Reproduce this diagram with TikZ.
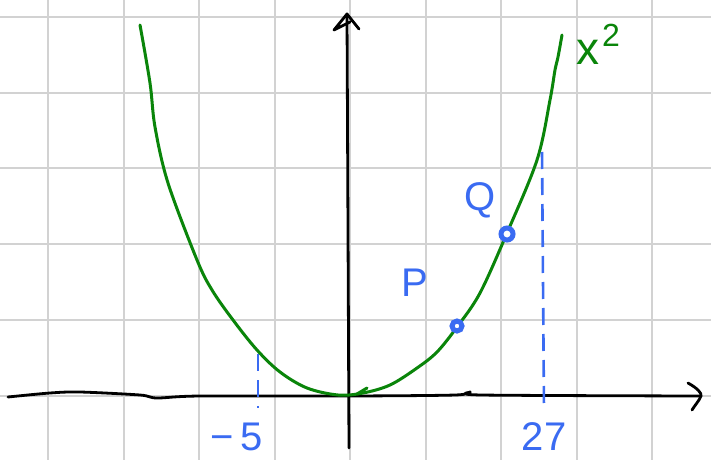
\documentclass[tikz,border=0pt]{standalone}
\usepackage{fontspec}
\setmainfont{Liberation Sans}
\usepackage{xcolor}
\usepackage{tikz}
\usetikzlibrary{arrows.meta,positioning,calc}
\definecolor{cInk}{HTML}{000000}
\definecolor{cGrid}{HTML}{D2D2D2}
\definecolor{cGreen}{HTML}{0A850A}
\definecolor{cBlue}{HTML}{3A6BF2}
\tikzset{
  gridln/.style={draw=cGrid,line width=2pt},
  axisln/.style={draw=cInk,line width=2.8pt,line cap=round,line join=round},
  curveln/.style={draw=cGreen,line width=3pt,line cap=round,line join=round},
  guide/.style={draw=cBlue,line width=2.6pt,dash pattern=on 17pt off 9pt},
  lbl/.style={text=#1,inner sep=0pt,font=\fontsize{40}{40}\selectfont},
  lbl/.default=cBlue,
  ptdot/.style={circle,draw=cBlue,fill=white,line width=5pt,inner sep=0pt,minimum size=#1},
  ptdot/.default=9pt,
}

\begin{document}
\begin{tikzpicture}[x=1pt,y=-1pt]
    \useasboundingbox (0,0) rectangle (711,460);
    \fill[white] (0,0) rectangle (711,460);
    % grid
    \foreach \gx in {0,...,8} \draw[gridln] ({48+75.5*\gx},0) -- ({48+75.5*\gx},460);
    \foreach \gy in {0,...,5} \draw[gridln] (0,{17+75.7*\gy}) -- (711,{17+75.7*\gy});
    % axes
    \coordinate (xs) at (8,397);
    \coordinate (xe) at (701,396);
    \coordinate (ys) at (349,448);
    \coordinate (ye) at (347,14);
    \draw[axisln] plot[smooth,tension=0.5] coordinates {(xs) (50,393) (80,392) (140,395) (157,398) (200,396) (350,396) (455,395) (470,392) (482,395) (xe)};
    \draw[axisln] (688,383) .. controls (697,388) and (702,393) .. (xe) .. controls (699,401) and (695,405) .. (692,410);
    \draw[axisln] (ys) -- (ye);
    \draw[axisln] (350,22) -- (334,30) -- (ye) -- (359,29);
    % parabola
    \draw[curveln] plot[smooth,tension=0.55] coordinates {(140,25) (150,83) (155,127) (168,183) (197,260) (212,290) (233,320) (257,350) (280,372) (307,388) (338,395) (363,393) (390,385) (417,368) (437,352) (457,327) (480,293) (507,233) (537,160) (550,100) (555,70) (558,57) (562,35)};
    \draw[curveln] (357,394) -- (367,388);
    \node[lbl=cGreen,anchor=center,font=\fontsize{46}{46}\selectfont] (fx) at (588,52) {x};
    \node[lbl=cGreen,anchor=center,font=\fontsize{32}{32}\selectfont] (fsq) at (611,35) {2};
    % guides
    \coordinate (m5) at (258,354);
    \coordinate (m5b) at (258,408);
    \coordinate (g27) at (542,152);
    \coordinate (g27b) at (544,410);
    \draw[guide] (m5) -- (m5b);
    \draw[guide] (g27) -- (g27b);
    \node[lbl,anchor=base] (lm5) at (237,450) {−\,5};
    \node[lbl,anchor=base] (l27) at (544,450) {27};
    % points
    \node[ptdot=10pt] (p) at (457,326) {};
    \node[ptdot=12pt] (q) at (507,234) {};
    \node[lbl] (lp) at (415,283) {P};
    \node[lbl] (lq) at (480,200) {Q};
  \end{tikzpicture}
\end{document}
